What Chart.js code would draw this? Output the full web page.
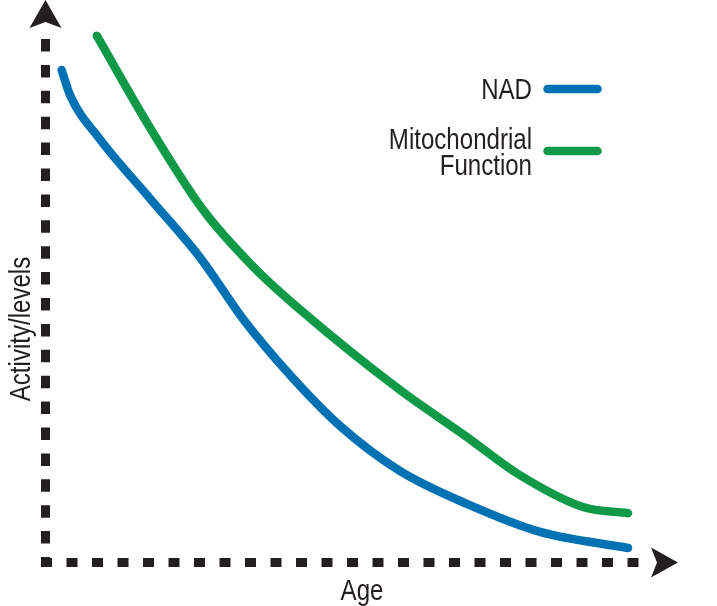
<!DOCTYPE html>
<html>
<head>
<meta charset="utf-8">
<script src="https://cdn.jsdelivr.net/npm/chart.js@4.4.1/dist/chart.umd.min.js"></script>
<style>
    body { margin: 0; background: #fff; }
    canvas { display: block; }
</style>
</head>
<body>
<canvas id="grafico" width="717" height="606"></canvas>
<script>
// valores (idade 0-100, nivel 0-100)
const nadIdade = [2.8, 4.2, 9.2, 17.6, 26.1, 33.3, 41.2, 49.6, 59.7, 70.9, 83.2, 98.0];
const nadNivel = [94.8, 90.0, 81.5, 70.1, 58.6, 46.8, 36.0, 26.2, 17.5, 11.2, 5.8, 2.7];

const mitoIdade = [8.7, 17.9, 26.6, 35.0, 42.9, 59.7, 70.9, 79.3, 90.4, 98.0];
const mitoNivel = [101.4, 83.2, 67.8, 56.9, 48.6, 33.1, 24.1, 17.1, 10.6, 9.4];

const legendas = ['NAD', 'Mitochondrial\nFunction'];
const tituloX = 'Age';
const tituloY = 'Activity/levels';

const azul = '#0072b4';
const verde = '#109a48';
const preto = '#231f20';
const fonte = '29px "Liberation Sans", Arial, sans-serif';
const estreito = 0.83;

const montaPontos = (xs, ys) => xs.map((x, i) => ({ x: x, y: ys[i] }));

// texto condensado (a fonte original e estreita)
const textoEstreito = (c, t, x, y) => {
    c.save();
    c.translate(x, y);
    c.scale(estreito, 1);
    c.fillText(t, 0, 0);
    c.restore();
};

// eixos tracejados, setas, titulos e legenda
const extras = {
    id: 'extras',
    beforeDatasetsDraw(chart) {
        const c = chart.ctx;
        const sx = chart.scales.x;
        const sy = chart.scales.y;
        const x0 = sx.getPixelForValue(0) + 0.5;
        const y0 = sy.getPixelForValue(0) + 0.5;
        const topo = sy.getPixelForValue(100);
        const fim = sx.getPixelForValue(100);

        c.save();
        c.strokeStyle = preto;
        c.lineWidth = 9;
        c.lineCap = 'butt';
        c.setLineDash([12.5, 13.4]);
        c.beginPath();
        c.moveTo(x0, topo - 4);
        c.lineTo(x0, y0);
        c.stroke();

        c.setLineDash([11, 14.5]);
        c.beginPath();
        c.moveTo(x0 - 4.5, y0);
        c.lineTo(fim + 1, y0);
        c.stroke();

        c.fillStyle = preto;
        c.beginPath();
        c.moveTo(x0, topo - 43);
        c.lineTo(x0 - 16, topo - 15);
        c.lineTo(x0, topo - 21);
        c.lineTo(x0 + 16, topo - 15);
        c.closePath();
        c.fill();

        c.beginPath();
        c.moveTo(fim + 38, y0);
        c.lineTo(fim + 11, y0 - 15);
        c.lineTo(fim + 17, y0);
        c.lineTo(fim + 11, y0 + 15);
        c.closePath();
        c.fill();
        c.restore();
    },
    afterDraw(chart) {
        const c = chart.ctx;
        c.save();
        c.fillStyle = preto;
        c.font = fonte;
        c.textBaseline = 'alphabetic';
        c.textAlign = 'center';
        textoEstreito(c, tituloX, 362, 600);

        c.save();
        c.translate(30, 329);
        c.rotate(-Math.PI / 2);
        textoEstreito(c, tituloY, 0, 0);
        c.restore();

        // legenda: texto a esquerda, amostra da linha a direita
        c.textAlign = 'right';
        const linhasY = [89, 151];
        chart.data.datasets.forEach((ds, i) => {
            const partes = legendas[i].split('\n');
            const base = partes.length > 1 ? linhasY[i] - 2 : linhasY[i] + 10;
            c.fillStyle = preto;
            partes.forEach((p, j) => textoEstreito(c, p, 532, base + j * 25.8));
            c.strokeStyle = ds.borderColor;
            c.lineWidth = 8.5;
            c.lineCap = 'round';
            c.beginPath();
            c.moveTo(547.5, linhasY[i]);
            c.lineTo(597.5, linhasY[i]);
            c.stroke();
        });
        c.restore();
    }
};

new Chart(document.getElementById('grafico'), {
    type: 'line',
    data: {
        datasets: [{
            label: legendas[0],
            data: montaPontos(nadIdade, nadNivel),
            borderColor: azul,
            borderWidth: 8.5,
            borderCapStyle: 'round',
            borderJoinStyle: 'round',
            pointRadius: 0,
            cubicInterpolationMode: 'monotone',
            clip: false,
        },
        {
            label: legendas[1],
            data: montaPontos(mitoIdade, mitoNivel),
            borderColor: verde,
            borderWidth: 8.5,
            borderCapStyle: 'round',
            borderJoinStyle: 'round',
            pointRadius: 0,
            cubicInterpolationMode: 'monotone',
            clip: false,
        }],
    },
    options: {
        responsive: false,
        animation: false,
        layout: {
            padding: { left: 45, top: 43, right: 77, bottom: 44 }
        },
        plugins: {
            legend: { display: false },
            tooltip: { enabled: false },
        },
        scales: {
            x: {
                type: 'linear',
                min: 0,
                max: 100,
                grid: { display: false, drawTicks: false },
                ticks: { display: false },
                border: { display: false }
            },
            y: {
                min: 0,
                max: 100,
                grid: { display: false, drawTicks: false },
                ticks: { display: false },
                border: { display: false }
            }
        }
    },
    plugins: [extras]
});
</script>
</body>
</html>
